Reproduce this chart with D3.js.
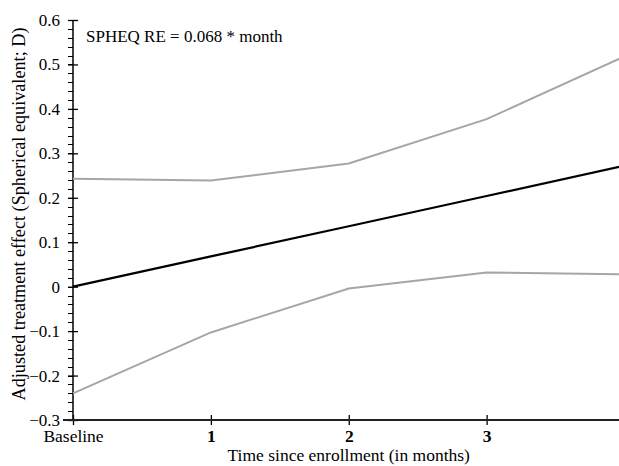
<!DOCTYPE html>
<html>
<head>
<meta charset="utf-8">
<script src="https://d3js.org/d3.v7.min.js"></script>
<style>
  body { margin: 0; background: #fff; }
  svg text { font-family: "Liberation Serif", "Times New Roman", serif; fill: #000; }
</style>
</head>
<body>
<div id="chart"></div>
<script>
// data
var categories = ["Baseline", "1", "2", "3", "4"];
var estimate = [0, 0.068, 0.136, 0.204, 0.272];
var upper = [0.243, 0.239, 0.277, 0.377, 0.518];
var lower = [-0.240, -0.103, -0.004, 0.032, 0.028];
var yTicks = [-0.3, -0.2, -0.1, 0, 0.1, 0.2, 0.3, 0.4, 0.5, 0.6];
var annotation = "SPHEQ RE = 0.068 * month";

var width = 619, height = 466;
var m = { left: 73, top: 20, right: -5.5, bottom: 46 };
var serif = '"Liberation Serif", "Times New Roman", serif';

var svg = d3.select("#chart").append("svg")
    .attr("width", width)
    .attr("height", height);

var x = d3.scalePoint()
    .domain(categories)
    .range([m.left, width - m.right]);

var y = d3.scaleLinear()
    .domain([-0.3, 0.6])
    .range([height - m.bottom, m.top]);

// minor ticks on y, outside only
var minor = d3.range(-0.3, 0.6001, 0.02);
svg.append("g")
    .selectAll("line")
    .data(minor)
    .enter().append("line")
    .attr("x1", m.left - 5)
    .attr("x2", m.left)
    .attr("y1", function (d) { return Math.round(y(d)) + 0.5; })
    .attr("y2", function (d) { return Math.round(y(d)) + 0.5; })
    .attr("stroke", "#000")
    .attr("stroke-width", 1);

// y axis
var yAxis = svg.append("g")
    .attr("transform", "translate(" + m.left + ",0)")
    .call(d3.axisLeft(y).tickValues(yTicks).tickSize(0).tickPadding(13)
        .tickFormat(function (d) { return d === 0 ? "0" : d3.format(".1f")(d); }));
yAxis.attr("font-family", serif);
yAxis.select(".domain").remove();
yAxis.selectAll("text")
    .style("font-size", "17px")
    .style("font-family", serif);
yAxis.selectAll(".tick").append("line")
    .attr("x1", -5).attr("x2", 5)
    .attr("stroke", "#000").attr("stroke-width", 1.3);

svg.append("line")
    .attr("x1", m.left).attr("x2", m.left)
    .attr("y1", y(0.6)).attr("y2", y(-0.3))
    .attr("stroke", "#000").attr("stroke-width", 1.5);

// x axis
var xAxis = svg.append("g")
    .attr("transform", "translate(0," + y(-0.3) + ")")
    .call(d3.axisBottom(x).tickSize(0).tickPadding(10));
xAxis.attr("font-family", serif);
xAxis.select(".domain").remove();
xAxis.selectAll("text")
    .style("font-size", "17.5px")
    .style("font-weight", function (d) { return d === "Baseline" ? "normal" : "bold"; })
    .style("font-family", serif);
xAxis.selectAll(".tick").append("line")
    .attr("y1", -5).attr("y2", 5)
    .attr("stroke", "#000").attr("stroke-width", 1.3);

svg.append("line")
    .attr("x1", m.left - 10).attr("x2", width)
    .attr("y1", y(-0.3)).attr("y2", y(-0.3))
    .attr("stroke", "#222").attr("stroke-width", 2);

// lines
var line = d3.line()
    .x(function (d, i) { return x(categories[i]); })
    .y(function (d) { return y(d); });

svg.append("path").datum(upper)
    .attr("d", line).attr("fill", "none")
    .attr("stroke", "#a6a6a6").attr("stroke-width", 2);
svg.append("path").datum(lower)
    .attr("d", line).attr("fill", "none")
    .attr("stroke", "#a6a6a6").attr("stroke-width", 2);
svg.append("path").datum(estimate)
    .attr("d", line).attr("fill", "none")
    .attr("stroke", "#000").attr("stroke-width", 2.2);

// annotation
svg.append("text")
    .attr("x", 86).attr("y", 42)
    .style("font-size", "17px")
    .style("font-family", serif)
    .text(annotation);

// axis titles
svg.append("text")
    .attr("x", (m.left + 624.5) / 2).attr("y", 461)
    .attr("text-anchor", "middle")
    .style("font-size", "17.5px")
    .style("font-family", serif)
    .text("Time since enrollment (in months)");

svg.append("text")
    .attr("transform", "translate(24.5," + ((y(0.6) + y(-0.3)) / 2 - 6) + ") rotate(-90)")
    .attr("text-anchor", "middle")
    .style("font-size", "18.2px")
    .style("font-family", serif)
    .text("Adjusted treatment effect (Spherical equivalent; D)");
</script>
</body>
</html>
